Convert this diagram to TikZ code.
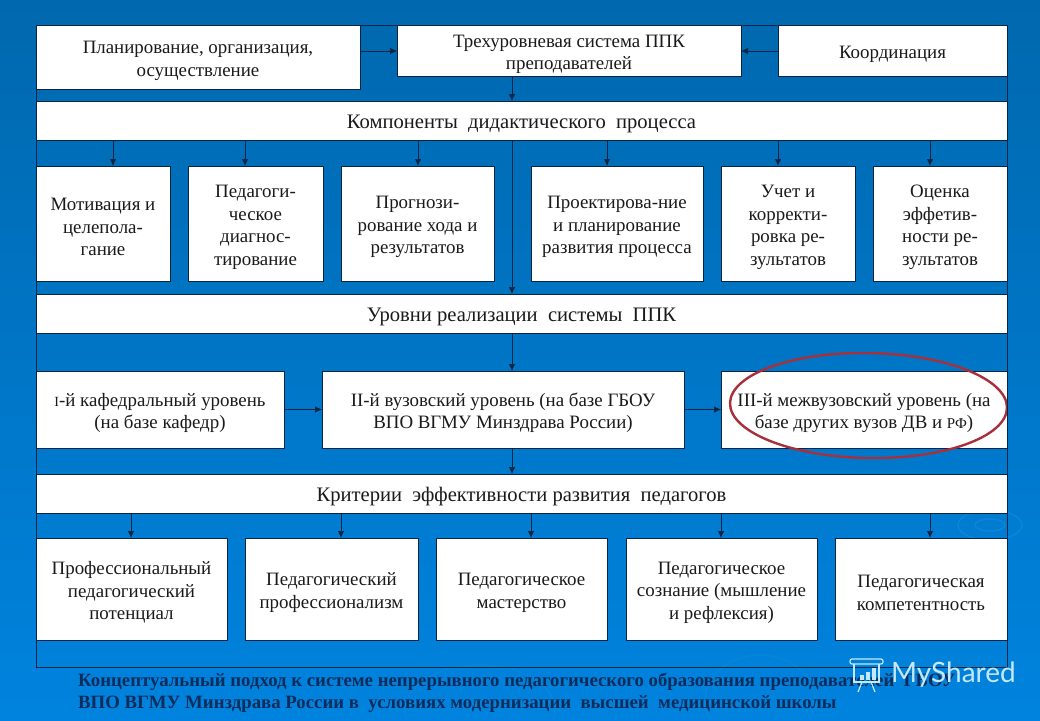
\documentclass[tikz,border=0pt]{standalone}
\usepackage{fontspec}
\setmainfont{Liberation Serif}
\newfontfamily\marksans{Lato}
\usetikzlibrary{arrows.meta, positioning, calc, shapes.geometric}
\definecolor{slidetop}{HTML}{0068AE}
\definecolor{slidemiddle}{HTML}{0069B2}
\definecolor{slidebottom}{HTML}{0083DE}
\definecolor{slideline}{HTML}{0B2545}
\definecolor{slidetext}{HTML}{1A1A1A}
\definecolor{slideswirl}{HTML}{2A93DF}
\definecolor{slidecaption}{HTML}{0C2C5C}
\definecolor{slidering}{HTML}{A8303B}
\definecolor{slidemark}{HTML}{C4E8F8}
\newcommand{\leadin}{\rule{0pt}{20pt}}

\begin{document}
\begin{tikzpicture}[
        x=1pt,
        y=1pt,
        block/.style={
            draw=slideline,
            line width=0.7pt,
            fill=white,
            outer sep=0pt,
            inner sep=1pt,
            align=center,
            text=slidetext,
            font=\fontsize{18.9}{22.5}\selectfont
        },
        band/.style={
            block,
            minimum width=971pt,
            minimum height=39pt,
            font=\fontsize{20.6}{23}\selectfont
        },
        rowtwo/.style={
            block,
            minimum height=115pt
        },
        rowthree/.style={
            block,
            minimum height=77pt
        },
        rowfour/.style={
            block,
            minimum height=102pt
        },
        flow/.style={
            -{Latex[length=7pt,width=6.5pt]},
            line width=0.7pt,
            slideline
        },
        ring/.style={
            ellipse,
            draw=slidering,
            line width=2.4pt,
            minimum width=277pt,
            minimum height=105pt,
            rotate=-1,
            inner sep=0pt
        },
        swirl/.style={
            ellipse,
            draw=slideswirl,
            line width=1.5pt,
            opacity=0.35,
            inner sep=0pt
        },
        caption/.style={
            anchor=north west,
            align=left,
            text=slidecaption,
            inner sep=0pt,
            font=\fontsize{18.8}{22}\selectfont\bfseries
        },
        watermark/.style={
            text=slidemark,
            inner sep=0pt,
            font=\fontsize{28}{28}\selectfont\marksans
        },
        markline/.style={
            draw=slidemark,
            line width=1.2pt
        }
    ]

        % ---------------------------------------------------------------------
        % Slide background
        % ---------------------------------------------------------------------

        \useasboundingbox (0,0) rectangle (1040,-720);

        \shade[top color=slidetop, middle color=slidemiddle, bottom color=slidebottom]
            (0,0) rectangle (1040,-720);

        \node[swirl, minimum width=30pt, minimum height=12pt] (swirla) at (990,-525) {};
        \node[swirl, minimum width=64pt, minimum height=30pt] (swirlb) at (990,-525) {};
        \node[swirl, opacity=0.2, minimum width=150pt, minimum height=90pt] (swirlc) at (480,-710) {};
        \node[swirl, opacity=0.2, minimum width=110pt, minimum height=90pt] (swirld) at (760,-700) {};

        % ---------------------------------------------------------------------
        % Top row
        % ---------------------------------------------------------------------

        \node[
            block,
            anchor=north west,
            minimum width=324pt,
            minimum height=64pt
        ] (planning) at (36,-25) {\leadin Планирование, организация,\\осуществление};

        \node[
            block,
            right=37pt of planning.north east,
            anchor=north west,
            minimum width=344pt,
            minimum height=51pt
        ] (system) {\leadin Трехуровневая система ППК\\преподавателей};

        \node[
            block,
            right=37pt of system.north east,
            anchor=north west,
            minimum width=229pt,
            minimum height=51pt
        ] (coordination) {\leadin Координация};

        \node[
            band,
            below right=12pt and 0pt of planning.south west
        ] (components) {\leadin Компоненты\ \ дидактического\ \ процесса};

        \draw[flow]
            ([yshift=-26pt]planning.north east) -- ([yshift=-26pt]system.north west);

        \draw[flow]
            ([yshift=-26pt]coordination.north west) -- ([yshift=-26pt]system.north east);

        \draw[flow]
            ([xshift=-57pt]system.south) -- ([xshift=-57pt]system.south |- components.north);

        % ---------------------------------------------------------------------
        % Second row: parts of the process
        % ---------------------------------------------------------------------

        \node[
            rowtwo,
            below right=26pt and 0pt of components.south west,
            minimum width=134pt
        ] (motivation) {\leadin Мотивация и\\целепола-\\гание};

        \node[
            rowtwo,
            right=18pt of motivation,
            minimum width=135pt
        ] (diagnostics) {\leadin Педагоги-\\ческое\\диагнос-\\тирование};

        \node[
            rowtwo,
            right=18pt of diagnostics,
            minimum width=153pt
        ] (forecast) {\leadin Прогнози-\\рование хода и\\результатов};

        \node[
            rowtwo,
            right=37pt of forecast,
            minimum width=172pt
        ] (design) {\leadin Проектирова-ние\\и планирование\\развития процесса};

        \node[
            rowtwo,
            right=18pt of design,
            minimum width=134pt
        ] (correction) {\leadin Учет и\\корректи-\\ровка ре-\\зультатов};

        \node[
            rowtwo,
            right=18pt of correction,
            minimum width=134pt
        ] (assessment) {\leadin Оценка\\эффетив-\\ности ре-\\зультатов};

        \node[
            band,
            below right=13pt and 0pt of motivation.south west
        ] (levels) {\leadin Уровни реализации\ \ системы\ \ ППК};

        \foreach \target/\offset in {
            motivation/10pt,
            diagnostics/-10.5pt,
            forecast/0.5pt,
            design/-10pt,
            correction/-10pt,
            assessment/-10pt
        } {
            \draw[flow]
                ([xshift=\offset]\target.north |- components.south)
                -- ([xshift=\offset]\target.north);
        }

        % The long line passes between the third and the fourth box.
        \draw[flow]
            (components.south -| system.south) ++(-57pt,0)
            coordinate (trunktop)
            -- (trunktop |- levels.north);

        % ---------------------------------------------------------------------
        % Third row: levels
        % ---------------------------------------------------------------------

        \node[
            rowthree,
            below right=38pt and 0pt of levels.south west,
            minimum width=248pt
        ] (department) {\leadin{\fontsize{14}{22.5}\selectfont I}-й кафедральный уровень\\(на базе кафедр)};

        \node[
            rowthree,
            right=38pt of department,
            minimum width=362pt
        ] (university) {\leadin II-й вузовский уровень (на базе ГБОУ\\ВПО ВГМУ Минздрава России)};

        \node[
            rowthree,
            right=37pt of university,
            minimum width=286pt
        ] (interuniversity) {\leadin III-й межвузовский уровень (на\\базе других вузов ДВ и {\fontsize{15}{22.5}\selectfont РФ})};

        \node[
            band,
            below right=26pt and 0pt of department.south west
        ] (criteria) {\leadin Критерии\ \ эффективности развития\ \ педагогов};

        \node[ring] (highlight) at ($(interuniversity.center)+(4.5,4)$) {};

        \draw[flow]
            (department.east) -- (university.west);

        \draw[flow]
            (university.east) -- (interuniversity.west);

        \draw[flow]
            (trunktop |- levels.south) -- (trunktop |- university.north);

        \draw[flow]
            (trunktop |- university.south) -- (trunktop |- criteria.north);

        % ---------------------------------------------------------------------
        % Fourth row: criteria
        % ---------------------------------------------------------------------

        \node[
            rowfour,
            below right=25pt and 0pt of criteria.south west,
            minimum width=191pt
        ] (potential) {\leadin Профессиональный\\педагогический\\потенциал};

        \node[
            rowfour,
            right=18pt of potential,
            minimum width=173pt
        ] (professionalism) {\leadin Педагогический\\профессионализм};

        \node[
            rowfour,
            right=18pt of professionalism,
            minimum width=171pt
        ] (mastery) {\leadin Педагогическое\\мастерство};

        \node[
            rowfour,
            right=19pt of mastery,
            minimum width=191pt
        ] (awareness) {\leadin Педагогическое\\сознание (мышление\\и рефлексия)};

        \node[
            rowfour,
            right=18pt of awareness,
            minimum width=172pt
        ] (competence) {\leadin Педагогическая\\компетентность};

        \foreach \target/\offset in {
            potential/-0.5pt,
            professionalism/9.5pt,
            mastery/9.5pt,
            awareness/-0.5pt,
            competence/9pt
        } {
            \draw[flow]
                ([xshift=\offset]\target.north |- criteria.south)
                -- ([xshift=\offset]\target.north);
        }

        % Thin frame around all rows.
        \draw[line width=0.7pt, slideline]
            (planning.north west)
            rectangle ($(coordination.east |- competence.south)+(0,-27pt)$);

        % ---------------------------------------------------------------------
        % Caption and mark
        % ---------------------------------------------------------------------

        \node[caption] (title) at (78,-673) {Концептуальный подход к системе непрерывного педагогического образования преподавателей\ \ ГБОУ\\ВПО ВГМУ Минздрава России в\ \ условиях модернизации\ \ высшей\ \ медицинской школы};

        \node[watermark, anchor=west] (mark) at (891,-675) {MyShared};

        % Small screen with bars beside the mark.
        \draw[markline, rounded corners=2pt]
            (850,-664) -- (850,-659) -- (883,-659) -- (883,-664) -- cycle;
        \draw[markline]
            (854,-664) -- (854,-682) -- (879,-682) -- (879,-664);
        \draw[markline]
            (862,-682) -- (858,-692)
            (871,-682) -- (875,-692);
        \foreach \barx/\bartop in {860/-675, 866/-672, 872/-668} {
            \fill[slidemark] (\barx,-680) rectangle ++(4,\bartop+680);
        }

    \end{tikzpicture}
\end{document}
